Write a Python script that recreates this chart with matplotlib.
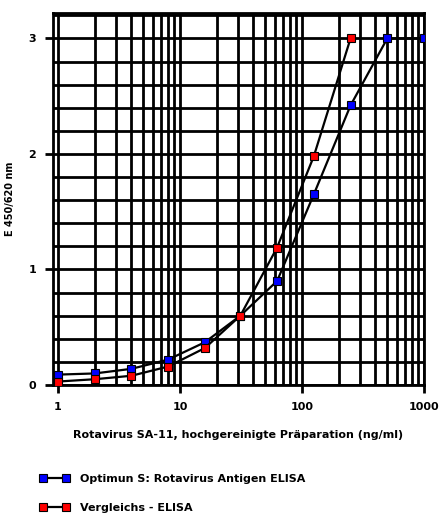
import numpy as np
import matplotlib
matplotlib.use("Agg")
import matplotlib.pyplot as plt
from matplotlib.ticker import FixedLocator, MultipleLocator, NullFormatter

# concentration (ng/ml) and extinction values
conc_optimun = [1, 2, 4, 8, 16, 31.25, 62.5, 125, 250, 500, 1000]
ext_optimun = [0.09, 0.10, 0.14, 0.22, 0.37, 0.60, 0.90, 1.65, 2.42, 3.0, 3.0]

conc_vergleich = [1, 2, 4, 8, 16, 31.25, 62.5, 125, 250]
ext_vergleich = [0.03, 0.05, 0.08, 0.16, 0.32, 0.60, 1.19, 1.98, 3.0]

x_ticks = [1, 10, 100, 1000]
x_tick_labels = ["1", "10", "100", "1000"]
y_ticks = [0, 1, 2, 3]

plt.rcParams["font.family"] = ["DejaVu Sans"]
plt.rcParams["font.weight"] = "bold"

fig = plt.figure(figsize=(4.4, 5.13), dpi=100)
ax = fig.add_axes([53 / 440, 1 - 385 / 513, 371 / 440, 372 / 513])

ax.set_xscale("log")
ax.set_xlim(0.91, 1000)
ax.set_ylim(0, 3.22)

# grid: every 1-9 per decade and every 0.2 on y
ax.xaxis.set_major_locator(FixedLocator(x_ticks))
ax.set_xticklabels(x_tick_labels)
minor_x = [m * 10 ** d for d in range(0, 3) for m in range(2, 10)]
ax.xaxis.set_minor_locator(FixedLocator(minor_x))
ax.xaxis.set_minor_formatter(NullFormatter())
ax.yaxis.set_major_locator(FixedLocator(y_ticks))
ax.yaxis.set_minor_locator(MultipleLocator(0.2))

ax.grid(True, which="both", color="black", linewidth=2.0)
for s in ax.spines.values():
    s.set_linewidth(2.0)
ax.tick_params(which="major", length=6, width=2.0, labelsize=8, pad=6)
ax.tick_params(which="minor", length=0)
ax.set_axisbelow(True)

ln1, = ax.plot(conc_optimun, ext_optimun, color="black", linewidth=1.6,
               marker="s", markersize=5.8, markerfacecolor="#0000ff",
               markeredgecolor="black", markeredgewidth=0.8,
               label="Optimun S: Rotavirus Antigen ELISA", zorder=3)
ln2, = ax.plot(conc_vergleich, ext_vergleich, color="black", linewidth=1.6,
               marker="s", markersize=5.8, markerfacecolor="#ff0000",
               markeredgecolor="black", markeredgewidth=0.8,
               label="Vergleichs - ELISA", zorder=4)

ax.set_xlabel("Rotavirus SA-11, hochgereinigte Präparation (ng/ml)",
              fontsize=8, fontweight="bold", labelpad=13)
ax.set_ylabel("E 450/620 nm", fontsize=7, fontweight="bold", labelpad=10)

fig.legend(handles=[ln1, ln2], loc="upper left", bbox_to_anchor=(30 / 440, 1 - 464 / 513),
           frameon=False, numpoints=2, handlelength=2.6, handletextpad=1.0,
           labelspacing=1.7, prop={"size": 8, "weight": "bold"})

fig.savefig("out.png", dpi=100)
